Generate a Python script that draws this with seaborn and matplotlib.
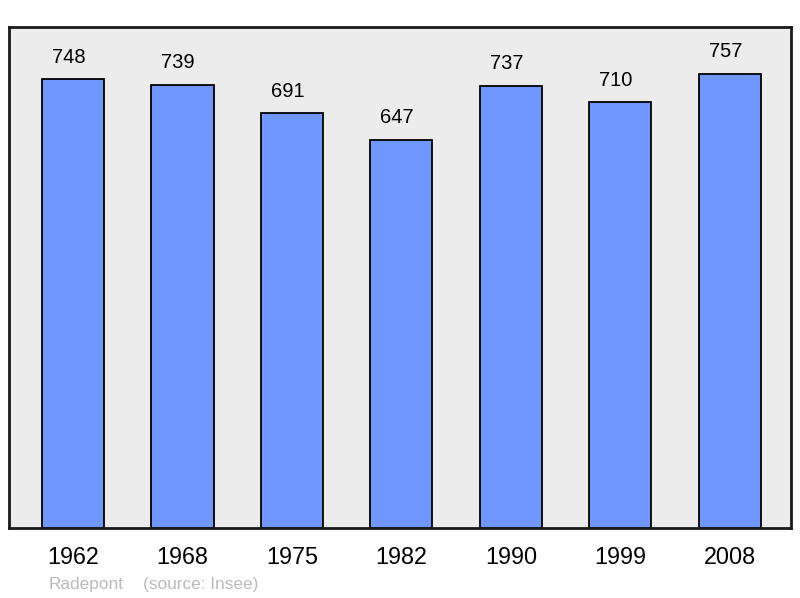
import matplotlib
matplotlib.use("Agg")
import matplotlib.pyplot as plt
import seaborn as sns
import pandas as pd

# Population data
years = ["1962", "1968", "1975", "1982", "1990", "1999", "2008"]
population = [748, 739, 691, 647, 737, 710, 757]

df = pd.DataFrame({"year": years, "pop": population})

sns.set_style("white")
plt.rcParams["font.family"] = ["Liberation Sans", "DejaVu Sans"]

fig = plt.figure(figsize=(8, 5.98), dpi=100)
ax = fig.add_axes([9 / 800, 70 / 598, 782 / 800, 501 / 598])
ax.set_facecolor("#ececec")

sns.barplot(data=df, x="year", y="pop", color="#7096ff", saturation=1,
            width=0.567, edgecolor="black", linewidth=1.3, ax=ax)

for i, v in enumerate(population):
    ax.annotate(str(v), (i - 0.04, v), xytext=(0, 11.8), textcoords="offset points",
                ha="center", va="baseline", fontsize=14.5, color="black")

ax.set_xlim(-0.585, 6.56)
ax.set_ylim(0, 835)
ax.set_yticks([])
ax.set_xlabel("")
ax.set_ylabel("")
ax.tick_params(axis="x", length=0, pad=13, labelsize=16.8, labelcolor="black")
for s in ax.spines.values():
    s.set_visible(True)
    s.set_linewidth(2)
    s.set_color("#1a1a1a")

fig.text(49 / 800, 1 - 584 / 598, "Radepont", color="#bbbbbb", fontsize=12.4, va="center")
fig.text(143 / 800, 1 - 584 / 598, "(source: Insee)", color="#bbbbbb", fontsize=12.4, va="center")

fig.savefig("out.png", dpi=100, facecolor="white")
